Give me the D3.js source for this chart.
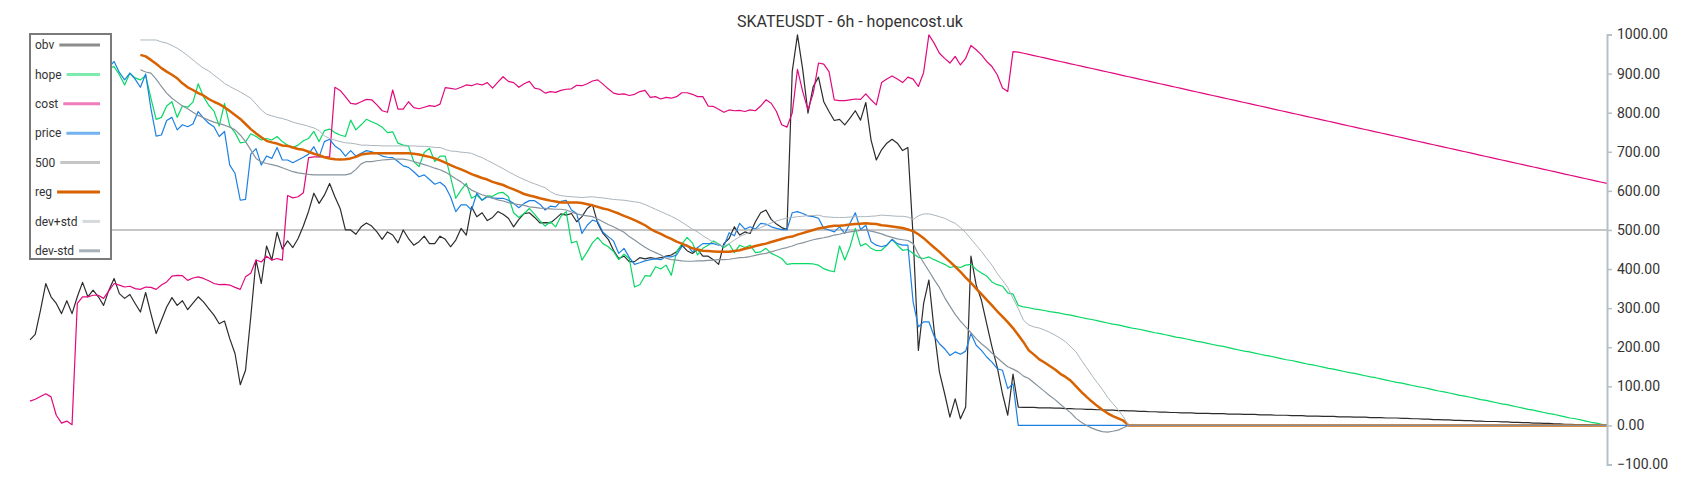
<!DOCTYPE html>
<html>
<head>
<meta charset="utf-8">
<script src="https://cdn.jsdelivr.net/npm/d3@7"></script>
<style>
  body { margin: 0; background: #fff; }
  svg { display: block; font-family: Roboto, "Noto Sans", sans-serif; }
</style>
</head>
<body>
<div id="chart"></div>
<script>
const TITLE = 'SKATEUSDT - 6h - hopencost.uk';
const LEVEL = 500;
const yTicks = [-100, 0, 100, 200, 300, 400, 500, 600, 700, 800, 900, 1000];

// one value per 6h candle, 301 candles (rows of 10)
const obv = [
  219,233,295,363,329,312,286,319,286,329,
  366,329,346,329,307,346,376,337,325,335,
  312,290,340,286,235,269,303,327,307,319,
  296,313,329,316,299,282,260,267,222,184,
  104,141,278,423,363,459,423,494,451,472,
  455,478,510,548,594,568,589,619,585,555,
  500,500,489,508,518,510,495,476,495,487,
  467,500,478,461,470,484,465,465,484,476,
  457,474,504,487,559,534,544,524,532,547,
  540,530,508,527,542,544,532,518,519,518,
  529,541,538,542,521,534,555,565,517,491,
  476,448,427,433,419,419,429,426,429,427,
  429,433,436,444,461,447,440,450,433,433,
  424,412,465,478,508,487,495,491,521,544,
  551,527,515,506,501,905,999,910,799,867,
  891,828,803,780,783,769,786,805,781,826,
  730,679,705,722,732,722,703,711,483,192,
  312,372,243,137,81,21,68,17,47,433,
  359,320,260,201,149,81,26,131,47,46,
  46,46,45,45,45,44,44,43,43,42,
  42,41,41,40,40,39,39,38,38,37,
  37,36,36,35,35,34,34,33,33,32,
  32,32,31,31,31,30,30,30,29,29,
  29,28,28,28,27,27,27,26,26,26,
  25,25,25,24,24,24,23,23,23,22,
  22,22,21,21,21,20,20,20,19,19,
  19,18,18,17,17,16,16,15,15,14,
  14,13,13,12,12,11,11,10,10,10,
  9,9,8,8,7,7,6,6,5,5,
  4,4,3,3,2,2,2,1,1,0,
  0
];

const hope = [
  930,936,925,940,932,920,928,935,922,915,
  926,934,920,910,918,914,918,897,871,901,
  889,884,895,837,783,788,817,828,788,817,
  814,827,874,841,819,804,766,824,766,749,
  723,725,746,739,730,734,730,739,726,717,
  711,717,728,734,752,726,754,758,749,743,
  739,781,756,769,783,777,771,763,749,751,
  722,717,715,675,662,698,709,675,689,689,
  636,581,602,619,581,589,576,587,586,594,
  596,585,544,532,542,555,540,524,510,521,
  508,535,547,467,471,423,444,467,481,465,
  457,445,424,438,427,354,360,383,382,406,
  400,410,384,444,464,481,467,436,453,461,
  472,464,455,464,442,461,455,461,442,444,
  453,440,434,427,412,414,414,414,414,413,
  410,401,396,393,459,423,457,504,459,465,
  453,447,448,461,476,461,448,450,440,430,
  427,431,424,418,412,404,407,404,410,412,
  399,390,382,367,360,356,339,336,307,303,
  301,298,296,294,291,289,287,284,282,279,
  276,273,271,268,265,262,259,257,254,251,
  248,246,243,240,237,235,232,229,226,224,
  221,218,215,213,210,207,204,202,199,196,
  193,190,188,185,182,179,177,174,171,168,
  166,163,160,157,155,152,149,146,144,141,
  138,135,133,130,127,124,122,119,116,113,
  110,108,105,102,99,97,94,91,88,86,
  83,80,77,75,72,69,66,64,61,58,
  55,53,50,47,44,41,39,36,33,30,
  28,25,22,19,17,14,11,8,6,3,
  0
];

const cost = [
  62,67,74,81,73,26,6,11,2,312,
  329,329,333,333,325,344,363,359,354,356,
  350,348,354,353,348,359,367,382,384,383,
  371,377,380,376,370,363,360,361,359,353,
  348,380,389,423,418,433,423,427,423,588,
  582,585,595,685,687,687,687,687,865,857,
  841,824,822,828,834,833,820,805,801,858,
  809,809,828,813,810,814,818,816,822,864,
  862,860,865,871,869,874,871,877,863,878,
  892,880,877,865,874,880,863,860,850,854,
  852,857,860,861,870,869,874,881,884,873,
  861,850,847,848,844,847,854,857,839,841,
  835,839,837,841,851,851,847,841,841,817,
  816,809,801,807,805,806,803,807,805,817,
  833,824,803,769,763,799,911,854,807,850,
  927,924,905,833,831,831,833,835,834,848,
  833,820,877,886,894,886,877,891,886,867,
  903,999,978,952,939,927,944,922,939,972,
  961,948,931,918,897,863,854,956,955,952,
  949,946,943,940,937,934,931,928,925,922,
  919,916,913,910,907,904,901,898,895,892,
  889,886,883,880,877,874,871,868,865,862,
  859,856,853,850,847,844,841,838,835,832,
  829,826,823,820,817,814,811,808,805,802,
  799,796,793,790,787,784,781,778,775,772,
  769,766,763,760,757,754,751,748,745,742,
  739,736,733,730,727,724,721,718,715,712,
  709,706,703,700,697,694,691,688,685,682,
  679,676,673,670,667,664,661,658,655,652,
  649,646,643,640,637,634,631,628,625,622,
  619
];

const price = [
  925,932,918,940,928,915,922,935,920,912,
  924,930,915,905,918,915,931,903,884,901,
  886,865,899,811,740,743,780,788,756,769,
  764,771,803,786,773,764,739,752,666,645,
  576,578,694,708,666,689,683,711,679,679,
  672,679,686,694,713,687,726,732,715,706,
  689,703,689,696,703,700,696,689,686,685,
  675,664,660,649,636,641,629,617,622,611,
  585,547,564,564,551,594,576,585,582,581,
  581,576,568,557,568,575,575,566,551,561,
  559,573,576,551,542,491,512,525,521,494,
  483,472,440,453,430,412,416,421,424,426,
  424,432,431,436,457,461,444,455,465,465,
  465,461,459,493,485,517,502,508,502,517,
  515,508,504,501,501,544,547,542,536,534,
  530,504,500,495,508,491,517,544,501,512,
  470,461,457,461,476,465,461,461,316,252,
  265,265,228,209,196,179,188,182,190,235,
  205,192,175,162,145,141,94,107,0,0,
  0,0,0,0,0,0,0,0,0,0,
  0,0,0,0,0,0,0,0,0,0,
  0,0,0,0,0,0,0,0,0,0,
  0,0,0,0,0,0,0,0,0,0,
  0,0,0,0,0,0,0,0,0,0,
  0,0,0,0,0,0,0,0,0,0,
  0,0,0,0,0,0,0,0,0,0,
  0,0,0,0,0,0,0,0,0,0,
  0,0,0,0,0,0,0,0,0,0,
  0,0,0,0,0,0,0,0,0,0,
  0,0,0,0,0,0,0,0,0,0,
  0
];

const reg = [
  null,null,null,null,null,null,null,null,null,null,
  null,null,null,null,null,null,null,null,null,null,
  null,948,944,935,925,914,905,897,888,875,
  865,858,850,844,835,828,822,814,804,794,
  784,771,758,747,737,728,724,721,716,715,
  711,707,705,700,695,691,686,683,681,680,
  681,683,687,693,695,696,696,696,696,696,
  696,696,696,695,693,690,687,683,678,672,
  666,660,655,649,643,638,633,629,623,619,
  615,609,604,598,592,588,585,581,578,575,
  573,570,570,570,570,569,566,563,559,555,
  552,547,542,536,531,525,519,512,503,496,
  490,483,477,470,465,459,453,450,447,446,
  445,444,444,444,446,448,452,455,459,462,
  465,469,473,477,481,483,488,492,496,500,
  504,506,509,511,511,512,514,515,516,517,
  516,515,512,511,509,507,505,501,497,489,
  479,467,455,444,431,419,406,393,378,365,
  350,336,321,307,292,278,264,249,231,213,
  192,181,169,161,152,143,132,124,114,100,
  86,73,61,50,40,31,24,18,12,0,
  0,0,0,0,0,0,0,0,0,0,
  0,0,0,0,0,0,0,0,0,0,
  0,0,0,0,0,0,0,0,0,0,
  0,0,0,0,0,0,0,0,0,0,
  0,0,0,0,0,0,0,0,0,0,
  0,0,0,0,0,0,0,0,0,0,
  0,0,0,0,0,0,0,0,0,0,
  0,0,0,0,0,0,0,0,0,0,
  0,0,0,0,0,0,0,0,0,0,
  0
];

const devPlus = [
  null,null,null,null,null,null,null,null,null,null,
  null,null,null,null,null,null,null,null,null,null,
  null,986,986,986,986,981,978,972,965,956,
  946,935,924,914,907,896,886,875,867,860,
  853,845,837,822,807,796,792,788,785,781,
  776,772,769,765,761,754,741,734,730,726,
  723,722,720,717,717,716,716,715,715,715,
  715,715,715,715,714,714,713,711,711,706,
  702,701,699,698,696,690,685,678,671,664,
  657,649,642,635,629,623,618,613,608,598,
  591,588,586,585,584,583,584,585,583,582,
  580,578,577,576,574,572,570,565,559,553,
  547,541,535,528,520,511,502,495,485,477,
  468,462,459,465,474,483,489,495,501,506,
  512,518,523,527,530,532,534,535,537,537,
  538,534,533,532,532,532,533,534,534,534,
  535,536,538,537,536,535,535,533,527,536,
  541,541,538,534,530,523,517,506,493,477,
  461,445,427,410,389,371,353,325,299,269,
  257,252,249,244,238,231,223,214,201,188,
  167,148,128,110,92,72,56,40,22,0,
  0,0,0,0,0,0,0,0,0,0,
  0,0,0,0,0,0,0,0,0,0,
  0,0,0,0,0,0,0,0,0,0,
  0,0,0,0,0,0,0,0,0,0,
  0,0,0,0,0,0,0,0,0,0,
  0,0,0,0,0,0,0,0,0,0,
  0,0,0,0,0,0,0,0,0,0,
  0,0,0,0,0,0,0,0,0,0,
  0,0,0,0,0,0,0,0,0,0,
  0
];

const devMinus = [
  null,null,null,null,null,null,null,null,null,null,
  null,null,null,null,null,null,null,null,null,null,
  null,910,904,901,886,867,850,837,827,817,
  810,801,793,787,781,776,772,768,763,756,
  743,726,705,683,674,670,667,664,659,654,
  649,646,644,642,641,641,641,641,641,641,
  641,644,655,669,675,675,677,679,680,681,
  681,681,679,675,671,667,663,658,654,648,
  640,631,623,612,602,596,590,586,581,577,
  574,570,567,565,563,559,558,556,555,554,
  553,553,551,546,541,538,536,534,528,521,
  514,508,501,494,483,474,465,456,448,442,
  436,428,424,423,421,420,420,421,421,422,
  423,424,424,425,427,429,430,432,435,438,
  440,444,448,452,455,459,464,467,471,475,
  478,480,483,487,489,493,495,497,499,500,
  497,494,490,485,481,477,475,473,465,438,
  416,395,373,353,327,305,284,267,252,237,
  222,209,198,185,173,161,150,144,137,126,
  120,109,98,87,76,66,54,43,32,18,
  8,0,-7,-12,-16,-17,-15,-12,-6,0,
  0,0,0,0,0,0,0,0,0,0,
  0,0,0,0,0,0,0,0,0,0,
  0,0,0,0,0,0,0,0,0,0,
  0,0,0,0,0,0,0,0,0,0,
  0,0,0,0,0,0,0,0,0,0,
  0,0,0,0,0,0,0,0,0,0,
  0,0,0,0,0,0,0,0,0,0,
  0,0,0,0,0,0,0,0,0,0,
  0,0,0,0,0,0,0,0,0,0,
  0
];

const W = 1700, H = 500;
const svg = d3.select('#chart').append('svg')
  .attr('width', W)
  .attr('height', H);

const x = d3.scaleLinear().domain([0, obv.length - 1]).range([30, 1607]);
const y = d3.scaleLinear().domain([-100, 1000]).range([464.5, 34.5]);

const line = d3.line()
  .defined(d => d != null)
  .x((d, i) => x(i))
  .y(d => y(d));

// legend order; z = drawing order
const series = [
  { name: 'obv',     values: obv,      color: '#2c2c2c', width: 1.2, key: '#8c8c8c', z: 3 },
  { name: 'hope',    values: hope,     color: '#08d865', width: 1.2, key: '#7eeaae', z: 4 },
  { name: 'cost',    values: cost,     color: '#e2087e', width: 1.2, key: '#f07cb9', z: 5 },
  { name: 'price',   values: price,    color: '#1c80e2', width: 1.2, key: '#72b2f0', z: 6 },
  { name: '500',     values: null,     color: '#c6c6c6', width: 2,   key: '#c6c6c6', z: 0 },
  { name: 'reg',     values: reg,      color: '#d86200', width: 2.5, key: '#d86200', z: 7 },
  { name: 'dev+std', values: devPlus,  color: '#aab5bd', width: 1,   key: '#d4d9dd', z: 8 },
  { name: 'dev-std', values: devMinus, color: '#86939d', width: 1.2, key: '#a9b1b8', z: 9 }
];

// horizontal 500 level
svg.append('line')
  .attr('x1', x(0))
  .attr('x2', x(obv.length - 1))
  .attr('y1', y(LEVEL))
  .attr('y2', y(LEVEL))
  .attr('stroke', '#c6c6c6')
  .attr('stroke-width', 2);

const linesLayer = svg.append('g').attr('id', 'lines-layer');
series.filter(s => s.values)
  .sort((a, b) => a.z - b.z)
  .forEach(s => {
    linesLayer.append('path')
      .datum(s.values)
      .attr('d', line)
      .attr('fill', 'none')
      .attr('stroke', s.color)
      .attr('stroke-width', s.width)
      .attr('stroke-linejoin', 'round');
  });

// right axis
const axis = svg.append('g')
  .attr('transform', `translate(${x(obv.length - 1)},0)`)
  .call(d3.axisRight(y)
    .tickValues(yTicks)
    .tickFormat(d3.format('.2f'))
    .tickSize(5)
    .tickPadding(5));
axis.select('.domain').attr('stroke', '#b5c1c8').attr('stroke-width', 2);
axis.selectAll('.tick line').attr('stroke', '#b5c1c8').attr('stroke-width', 1.5);
axis.selectAll('.tick text')
  .attr('fill', '#333')
  .style('font-size', '14px')
  .style('font-family', 'Roboto, sans-serif');

// title
svg.append('text')
  .attr('x', 850)
  .attr('y', 27)
  .attr('text-anchor', 'middle')
  .attr('fill', '#333')
  .style('font-size', '16px')
  .text(TITLE);

// legend box
const legend = svg.append('g').attr('id', 'legend');
legend.append('rect')
  .attr('x', 30)
  .attr('y', 34)
  .attr('width', 81)
  .attr('height', 225)
  .attr('fill', '#fff')
  .attr('stroke', '#7a7a7a')
  .attr('stroke-width', 2);

series.forEach((s, k) => {
  const cy = 45 + k * 29.4;
  const label = legend.append('text')
    .attr('x', 35)
    .attr('y', cy)
    .attr('dy', '0.35em')
    .attr('fill', '#333')
    .style('font-size', '12px')
    .text(s.name);
  const tw = label.node().getComputedTextLength();
  legend.append('line')
    .attr('x1', 35 + tw + 5)
    .attr('x2', 100)
    .attr('y1', cy)
    .attr('y2', cy)
    .attr('stroke', s.key)
    .attr('stroke-width', 3);
});
</script>
</body>
</html>
